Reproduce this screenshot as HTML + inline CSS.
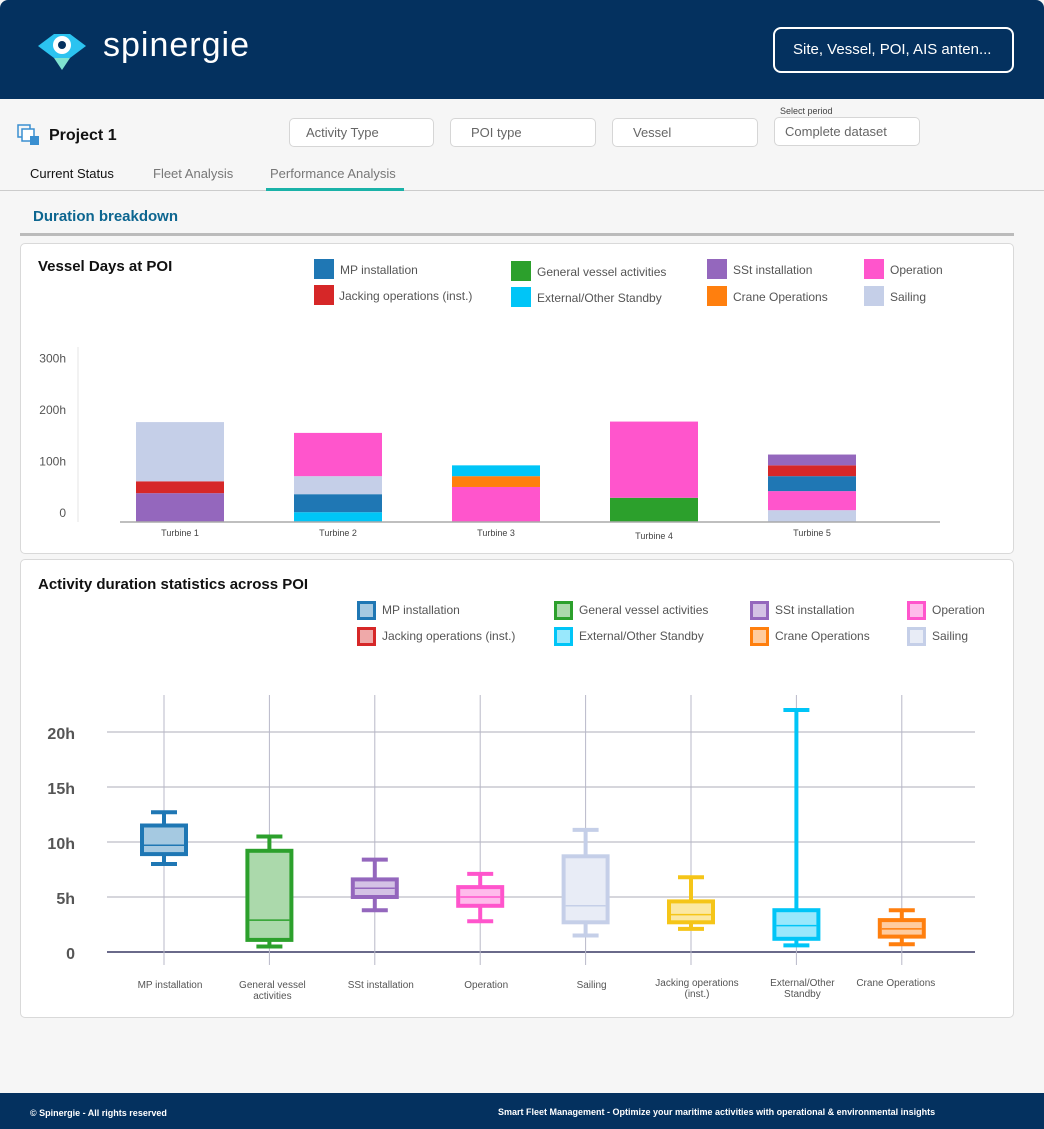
<!DOCTYPE html>
<html><head><meta charset="utf-8"><style>
*{box-sizing:border-box;margin:0;padding:0}
body{width:1044px;height:1129px;background:#f6f6f6;font-family:"Liberation Sans",sans-serif;position:relative;overflow:hidden}
.a{position:absolute}
.hdr{left:0;top:0;width:1044px;height:99px;background:#04315f;border-radius:8px 8px 0 0}
.sel{height:29px;border:1px solid #d6d6d6;border-radius:5px;background:#fff;font-size:13px;color:#666;padding:6px 0 0 16px}
.panel{background:#fff;border:1px solid #d9d9d9;border-radius:5px}
.lg{font-size:12px;color:#555}
.sq{width:20px;height:20px}
.bsq{width:19px;height:19px;border:3px solid}
</style></head><body>
<div class="a hdr">
 <svg class="a" style="left:36px;top:30px" width="52" height="42">
  <path d="M2 16 L18 4 L34 4 L50 16 L34 28 L18 28 Z" fill="#2bc3f0"/>
  <path d="M18 28 L34 28 L26 40 Z" fill="#7fe3d0"/>
  <circle cx="26" cy="15" r="9" fill="#fff"/><circle cx="26" cy="15" r="4" fill="#04315f"/>
 </svg>
 <div class="a" style="left:103px;top:26px;font-size:34px;color:#fff;letter-spacing:1px">spinergie</div>
 <div class="a" style="left:773px;top:27px;width:241px;height:46px;border:2px solid #fff;border-radius:8px;color:#fff;font-size:15px;padding:12px 0 0 18px">Site, Vessel, POI, AIS anten...</div>
</div>
<svg class="a" style="left:17px;top:124px" width="26" height="24"><rect x="1" y="1" width="12" height="12" fill="none" stroke="#3a8fd0" stroke-width="1.5"/><rect x="5" y="5" width="12" height="12" fill="#fff" stroke="#3a8fd0" stroke-width="1.5"/><rect x="13" y="12" width="9" height="9" fill="#3a8fd0"/></svg>
<div class="a" style="left:49px;top:127px;font-size:16px;font-weight:bold;color:#111">Project 1</div>
<div class="a sel" style="left:289px;top:118px;width:145px">Activity Type</div>
<div class="a sel" style="left:450px;top:118px;width:146px;padding-left:20px">POI type</div>
<div class="a sel" style="left:612px;top:118px;width:146px;padding-left:20px">Vessel</div>
<div class="a" style="left:780px;top:106px;font-size:9px;color:#444">Select period</div>
<div class="a sel" style="left:774px;top:117px;width:146px;padding-left:10px">Complete dataset</div>
<div class="a" style="left:30px;top:166px;font-size:13px;color:#111">Current Status</div>
<div class="a" style="left:153px;top:166px;font-size:13px;color:#777">Fleet Analysis</div>
<div class="a" style="left:270px;top:166px;font-size:13px;color:#777">Performance Analysis</div>
<div class="a" style="left:0;top:190px;width:1044px;height:1px;background:#ccc"></div>
<div class="a" style="left:266px;top:188px;width:138px;height:3px;background:#1ab2a8"></div>
<div class="a" style="left:33px;top:208px;font-size:15px;font-weight:bold;color:#0d6690">Duration breakdown</div>
<div class="a" style="left:20px;top:233px;width:994px;height:3px;background:#bbb"></div>

<div class="a panel" style="left:20px;top:243px;width:994px;height:311px"></div>
<div class="a" style="left:38px;top:258px;font-size:15px;font-weight:bold;color:#111">Vessel Days at POI</div>
<div class="a panel" style="left:20px;top:559px;width:994px;height:459px"></div>
<div class="a" style="left:38px;top:576px;font-size:15px;font-weight:bold;color:#111">Activity duration statistics across POI</div>

<svg id="bar" class="a" style="left:0;top:0" width="1044" height="560"></svg>
<svg id="box" class="a" style="left:0;top:0" width="1044" height="1030"></svg>

<div class="a" style="left:0;top:1093px;width:1044px;height:36px;background:#04315f">
 <div class="a" style="left:30px;top:15px;font-size:9px;font-weight:bold;color:#fff">© Spinergie - All rights reserved</div>
 <div class="a" style="left:498px;top:14px;font-size:9px;font-weight:bold;color:#fff">Smart Fleet Management - Optimize your maritime activities with operational &amp; environmental insights</div>
</div>

<script>
const NS="http://www.w3.org/2000/svg";
function mk(p,t,a,txt){const e=document.createElementNS(NS,t);for(const k in a)e.setAttribute(k,a[k]);if(txt!=null)e.textContent=txt;p.appendChild(e);return e;}
// ---- legend data ----
const legNames=["MP installation","Jacking operations (inst.)","General vessel activities","External/Other Standby","SSt installation","Crane Operations","Operation","Sailing"];
const legColors=["#1f77b4","#d62728","#2ca02c","#00c5f7","#9467bd","#ff7f0e","#ff55cc","#c5cfe8"];
const legColors2=["#1f77b4","#d62728","#2ca02c","#00c5f7","#9467bd","#ff7f0e","#ff55cc","#c5cfe8"];
const legCols=[314,511,707,864], legCols2=[357,554,750,907];
// ---- bar chart data ----
const turbines=["Turbine 1","Turbine 2","Turbine 3","Turbine 4","Turbine 5"];
const segCats=[["SSt installation","Jacking operations (inst.)","Sailing"],["External/Other Standby","MP installation","Sailing","Operation"],["Operation","Crane Operations","External/Other Standby"],["General vessel activities","Operation"],["Sailing","Operation","MP installation","Jacking operations (inst.)","SSt installation"]];
const segVals=[[56,23,115],[19,35,35,84],[68,21,21],[47,148],[23,37,29,21,21]];
const yTicks=[0,100,200,300];
const yTickLabels=["0","100h","200h","300h"];
const colorOf=n=>legColors[legNames.indexOf(n)];
// ---- box data ----
const boxCats=["MP installation","General vessel activities","SSt installation","Operation","Sailing","Jacking operations (inst.)","External/Other Standby","Crane Operations"];
const boxLabels=[["MP installation"],["General vessel","activities"],["SSt installation"],["Operation"],["Sailing"],["Jacking operations","(inst.)"],["External/Other","Standby"],["Crane Operations"]];
const boxMin=[8,0.5,3.8,2.8,1.5,2.1,0.6,0.7];
const boxQ1=[8.9,1.1,5,4.2,2.7,2.7,1.2,1.4];
const boxMed=[9.7,2.9,5.8,5,4.2,3.4,2.4,2.1];
const boxQ3=[11.5,9.2,6.6,5.9,8.7,4.6,3.8,2.9];
const boxMax=[12.7,10.5,8.4,7.1,11.1,6.8,22,3.8];
const boxColors=["#1f77b4","#2ca02c","#9467bd","#ff55cc","#c5cfe8","#f5c518","#00c5f7","#ff7f0e"];
const boxTicks=[0,5,10,15,20];
const boxTickLabels=["0","5h","10h","15h","20h"];

// ---- legends ----
legNames.forEach((n,i)=>{
 const x=legCols[Math.floor(i/2)], y=(i%2?285:259)+(i>=2&&i<4?2:0)+(i>=5&&i%2?1:0);
 const s=document.createElement('div');s.className='a sq';s.style.cssText=`left:${x}px;top:${y}px;background:${legColors[i]}`;
 
 
 document.body.appendChild(s);
 const t=document.createElement('div');t.className='a lg';t.style.cssText=`left:${x+26-(i%2&&i<2?1:0)}px;top:${y+4}px`;t.textContent=n;
 
 
 document.body.appendChild(t);
 const x2=legCols2[Math.floor(i/2)], y2=i%2?627:601;
 const s2=document.createElement('div');s2.className='a bsq';s2.style.cssText=`left:${x2}px;top:${y2}px;border-color:${legColors2[i]};background:${legColors2[i]}66`;
 
 
 document.body.appendChild(s2);
 const t2=document.createElement('div');t2.className='a lg';t2.style.cssText=`left:${x2+25}px;top:${y2+2}px`;t2.textContent=n;
 
 
 document.body.appendChild(t2);
});

// ---- bar chart ----
const bar=document.getElementById('bar');
const y0=522, pxh=0.515;
const yS=v=>y0-v*pxh;
const xS=i=>136+i*158;
mk(bar,'line',{x1:78,y1:347,x2:78,y2:522,stroke:'#e6e6e6'});
yTicks.forEach((v,i)=>{const t=mk(bar,'text',{x:66,y:yS(v)-5,'text-anchor':'end','font-size':12,fill:'#555','font-family':'Liberation Sans'},yTickLabels[i]);
 
 });
turbines.forEach((tn,i)=>{
 let acc=0;
 segVals[i].forEach((v,j)=>{
  const r=mk(bar,'rect',{x:xS(i),y:yS(acc+v),width:88,height:v*pxh,fill:colorOf(segCats[i][j])});
  
  
  acc+=v;});
 const t=mk(bar,'text',{x:xS(i)+44,y:536+(i==3?3:0),'text-anchor':'middle','font-size':9,fill:'#444','font-family':'Liberation Sans'},tn);
 
 
});
mk(bar,'line',{x1:120,y1:522,x2:940,y2:522,stroke:'#aaa','stroke-width':1.5});

// ---- box plot ----
const box=document.getElementById('box');
const b0=952, bph=11;
const bY=v=>b0-v*bph;
const bX=i=>164+i*105.4;
boxTicks.forEach((v,i)=>{
 mk(box,'line',{x1:107,y1:bY(v),x2:975,y2:bY(v),stroke:v==0?'#6a6a8a':'#c8c8d0','stroke-width':v==0?2:1.5});
 const t=mk(box,'text',{x:75,y:bY(v)+7,'text-anchor':'end','font-size':16,'font-weight':'bold',fill:'#555','font-family':'Liberation Sans'},boxTickLabels[i]);
 
 
});
boxCats.forEach((c,i)=>{
 const x=bX(i), col=boxColors[i];
 mk(box,'line',{x1:x,y1:695,x2:x,y2:965,stroke:'#b8b8c8','stroke-width':1});
 const g=mk(box,'g',{});
 
 
 mk(g,'line',{x1:x,y1:bY(boxMax[i]),x2:x,y2:bY(boxMin[i]),stroke:col,'stroke-width':4});
 mk(g,'line',{x1:x-13,y1:bY(boxMax[i]),x2:x+13,y2:bY(boxMax[i]),stroke:col,'stroke-width':4});
 mk(g,'line',{x1:x-13,y1:bY(boxMin[i]),x2:x+13,y2:bY(boxMin[i]),stroke:col,'stroke-width':4});
 mk(g,'rect',{x:x-22,y:bY(boxQ3[i]),width:44,height:(boxQ3[i]-boxQ1[i])*bph,fill:'#fff',stroke:col,'stroke-width':4});
 mk(g,'rect',{x:x-22,y:bY(boxQ3[i]),width:44,height:(boxQ3[i]-boxQ1[i])*bph,fill:col,'fill-opacity':0.4});
 mk(g,'line',{x1:x-20,y1:bY(boxMed[i]),x2:x+20,y2:bY(boxMed[i]),stroke:col,'stroke-width':1.5});
 boxLabels[i].forEach((l,k)=>{
  const t=mk(box,'text',{x:x+(i==1?3:i==7?-6:6),y:988+k*11-(i>=5?2:0),'text-anchor':'middle','font-size':10,fill:'#555','font-family':'Liberation Sans'},l);
  
  
 });
});
</script>
</body></html>
